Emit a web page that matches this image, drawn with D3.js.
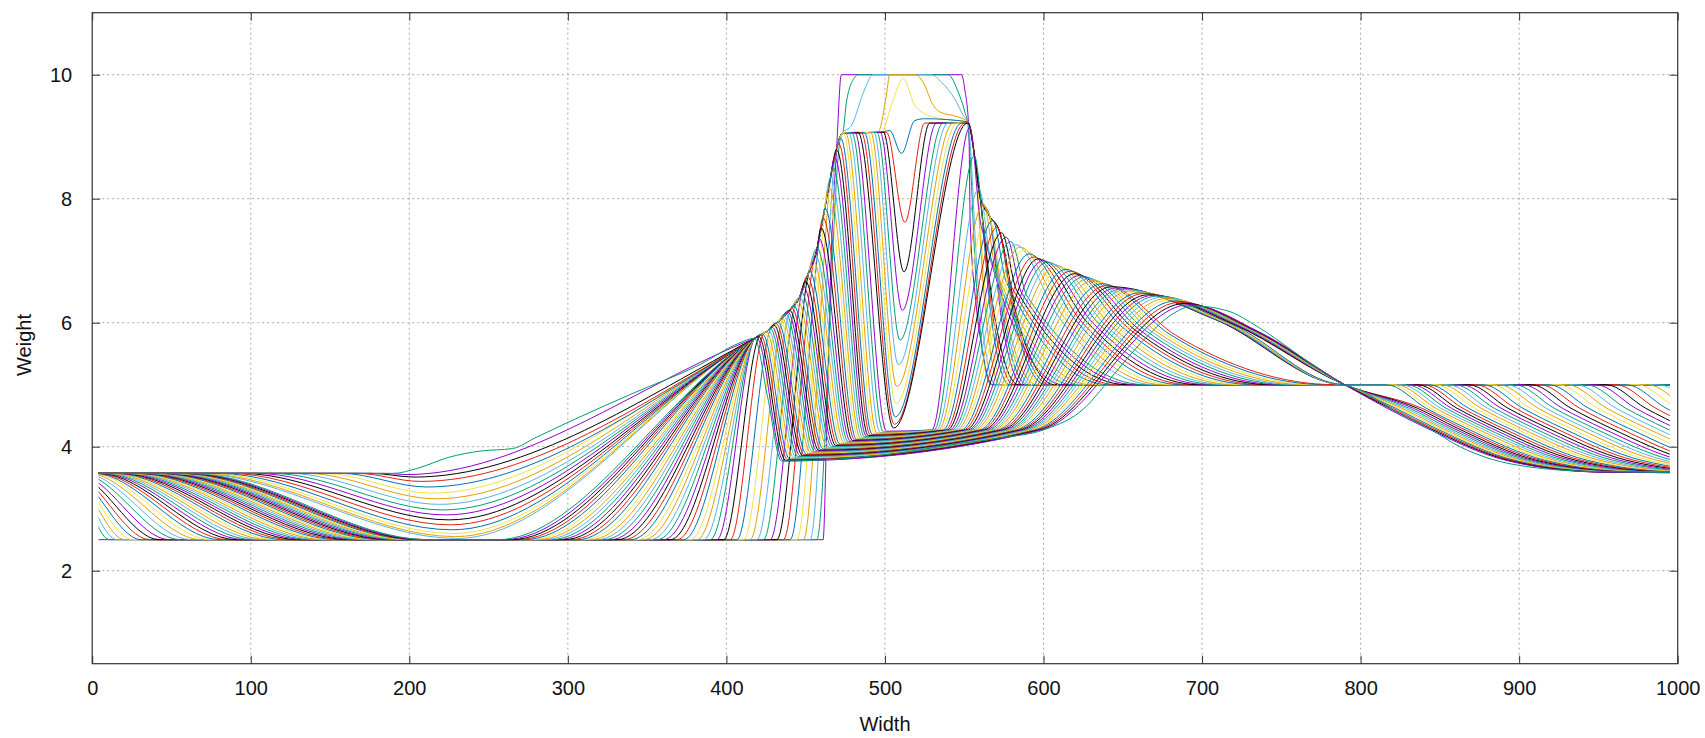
<!DOCTYPE html>
<html lang="en">
<head>
  <meta charset="utf-8"/>
  <title>Weight profiles</title>
  <script src="https://d3js.org/d3.v7.min.js"></script>
  <style>
    body { margin: 0; background: #fff; }
    text { font-family: "Liberation Sans", Arial, sans-serif; }
  </style>
</head>
<body>
<svg id="chart" width="1705" height="738"></svg>
<script>
  // ticks and colours
  const xTickValues = [0, 100, 200, 300, 400, 500, 600, 700, 800, 900, 1000];
  const yTickValues = [2, 4, 6, 8, 10];
  const lineColors = ["#9400d3", "#009e73", "#56b4e9", "#e69f00", "#f0e442", "#0072b2", "#e51e10", "#000000"];

  // levels
  const topLevel = 3.57, bottomLevel = 2.5, plateauLevel = 9.07, shoulderLevel = 9.22;
  const riseLevel = 4.27, rightLevel = 5.0;

  // first and last profile, read point by point
  const firstCurve = [[-20,2.5],[461,2.5],[463,4.0],[466,7.0],[469.5,8.8],[472.5,10.0],[548.3,10.0],[550.3,9.77],
    [552.9,9.13],[553.8,7.6],[557.5,6.3],[561.5,5.55],[565.5,5.08],[568,5.0],[1030,5.0]];
  const lastCurve = [[-20,3.57],[190,3.57],[205,3.65],[225,3.83],[245,3.93],[265,3.97],[280,4.15],[299,4.38],
    [341,4.86],[383,5.32],[408,5.67],[417.7,5.75],[426,4.8],[434.7,3.77],[470,3.80],[500,3.87],[547,4.05],
    [575,4.15],[599.9,4.27],[627,4.65],[638,4.97],[652,5.4],[665,5.77],[682,6.15],[694.5,6.27],[715,6.2],
    [736,5.92],[757,5.55],[774,5.24],[790,5.0],[800,4.91],[820.6,4.59],[841.6,4.32],[862.6,4.0],[883.7,3.79],
    [904.7,3.68],[946.8,3.60],[1030,3.58]];

  // left and right edges of the big peak
  const leftEdge = [[418,5.75],[425,5.85],[432,6.0],[440,6.2],[446,6.4],[451,6.75],[457,7.17],[461,7.7],[465,8.25],[469,8.75],[473,9.05]];
  const rightEdge = [[557,8.6],[560,8.03],[566,7.72],[572,7.49]];
  // fall from 5.0 towards 3.58 on the right (offset, value)
  const rightShape = [[0,5.0],[25,4.62],[50,4.3],[100,3.78],[160,3.59],[230,3.58]];
  const flankBend = { shoulder: [0.35, 0.4], steep: [0.12, 0.62], middle: [0.3, 0.5], late: [0.45, 0.66] };

  // curves 1-49: left step from 3.57 down to 2.5, then start of the climb
  const frontFrom = [-14.1,-14.6,-14.6,-14.5,-14.1,-13.3,-12.0,-10.0,-7.6,-5.2,-2.8,-0.6,1.0,2.6,4.2,5.9,7.5,9.1,10.8,
    12.4,14.1,15.7,17.4,19.1,20.7,22.4,24.1,25.8,27.5,29.2,30.9,32.6,34.3,36.0,37.7,39.4,41.1,42.8,44.6,46.3,48.1,
    49.8,51.6,53.3,55.1,56.8,58.6,60.4,62.1];
  const frontTo = [10.9,15.6,20.6,25.7,30.9,36.5,42.4,48.8,55.6,62.4,68.8,75.0,80.7,86.2,91.5,96.8,101.9,107.0,111.9,
    116.8,121.6,126.2,130.7,135.2,139.5,143.8,147.9,151.9,155.8,159.6,163.3,166.9,170.4,173.8,177.1,180.3,183.3,
    186.3,189.2,191.9,194.6,197.1,199.6,201.9,204.2,206.3,208.4,210.3,212.1];
  const fanFrom = [457.0,452.8,448.6,444.4,440.2,436.0,431.8,427.6,423.4,419.2,415.0,410.8,406.6,402.4,398.2,394.0,
    389.8,385.6,381.4,377.2,373.0,368.8,364.6,360.4,356.2,352.0,347.8,343.6,339.4,335.2,331.0,326.8,322.6,318.4,
    314.2,310.0,305.8,301.6,297.4,293.2,289.0,284.8,280.6,276.4,272.2,268.0,263.8,259.6,255.4];

  // curves 50-64: shallow dip near x = 225
  const dipFrom = [64,68,73,79,86,94,103,113,124,135,146,157,167,176,184];
  const dipX = [230,229,228,227,226,225,223,221,219,217,214,211,207,203,198];
  const dipY = [2.52,2.55,2.60,2.66,2.74,2.82,2.90,2.98,3.07,3.16,3.25,3.35,3.44,3.51,3.55];

  // curves 1-15: where the climb meets the left edge of the peak
  const joinX = [472,469,466,463,459.5,456,452,448,444,440,436,432,428,424,421];
  const joinY = [8.98,8.75,8.37,7.97,7.50,7.10,6.82,6.54,6.33,6.20,6.10,6.00,5.91,5.84,5.79];

  // curves 1-5: top of the peak
  const top1 = [[473.6,9.08],[475.7,9.56],[481,9.96],[483,10.0],[539.8,10.0],[546.2,9.72],[550.4,9.40],[552.4,9.18]];
  const top2 = [[478.9,9.18],[487.3,9.77],[492.5,10.0],[529.3,10.0],[535.6,9.88],[544,9.61],[549.3,9.35],[552.4,9.22]];
  const top3 = [[495.7,9.08],[500.9,9.67],[503,10.0],[518.8,10.0],[525.1,9.83],[529.3,9.56],[534.6,9.40],[546,9.32],[552.4,9.24]];
  const top4 = [[498,9.08],[504.1,9.51],[511.4,9.94],[518.8,9.51],[525.1,9.37],[535.6,9.29],[552.4,9.24]];
  const top5 = [[499,9.08],[503,9.10],[510.4,8.73],[518.8,9.26],[525,9.29],[552.4,9.24]];
  const topShapes = [top1, top2, top3, top4, top5];

  // curves 6-15: the V inside the peak
  const vFrom = [501,499,497,495,493,491,489,487,485,483];
  const vX = [512.5,512,511,509.5,508.5,507.5,507,506.5,506,505.5];
  const vY = [7.62,6.82,6.2,5.72,5.32,4.97,4.70,4.48,4.36,4.30];
  const vTo = [525.1,528.3,532.5,536.7,539.8,543,545.7,548.3,550.4,552.1];

  // curves 16-20: end of the left plateau
  const plateauTo = [481,479,477,475,473.5];
  // curves 21-64: left peak sliding down the left edge
  const peakLX = [472.0,470.8,469.5,468.3,467.1,465.8,464.6,463.4,462.1,460.9,459.7,458.4,457.2,456.0,454.7,453.5,
    452.3,451.0,449.8,448.6,447.3,446.1,444.9,443.6,442.4,441.2,439.9,438.7,437.5,436.2,435.0,433.8,432.5,431.3,
    430.1,428.8,427.6,426.4,425.1,423.9,422.7,421.4,420.2,419.0];
  const peakLY = [8.98,8.89,8.79,8.66,8.51,8.35,8.19,8.03,7.85,7.69,7.53,7.36,7.20,7.10,7.01,6.92,6.84,6.75,6.67,6.58,
    6.49,6.41,6.36,6.32,6.28,6.24,6.20,6.17,6.14,6.11,6.08,6.05,6.01,5.99,5.96,5.93,5.91,5.88,5.85,5.83,5.82,5.80,5.78,5.76];

  // curves 16-64: bottom of the drop, start of the right climb, right peak
  const dropX = [501.0,499.0,497.0,495.0,493.5,492.0,490.8,489.5,488.3,487.1,485.8,484.6,483.4,482.1,480.9,479.6,478.2,
    476.9,475.7,474.3,473.0,471.7,470.3,469.0,467.7,466.4,465.1,463.8,462.4,461.1,459.8,458.4,457.2,455.9,454.5,
    453.2,451.9,450.5,449.2,448.0,446.6,445.3,444.0,442.6,441.3,440.0,438.7,437.4,436.1];
  const lowLeft = [4.25,4.24,4.23,4.22,4.21,4.20,4.19,4.18,4.17,4.16,4.15,4.14,4.13,4.12,4.11,4.10,4.09,4.08,4.07,4.06,
    4.05,4.04,4.03,4.02,4.01,4.00,3.99,3.98,3.97,3.96,3.95,3.94,3.93,3.92,3.91,3.90,3.89,3.88,3.87,3.86,3.85,3.84,
    3.83,3.82,3.81,3.80,3.79,3.78,3.77];
  const riseFrom = [529.5,531.0,532.4,533.8,535.2,536.7,538.2,539.5,541.0,542.4,543.9,545.4,546.7,548.2,549.6,551.1,
    552.6,553.9,555.4,556.8,558.3,559.8,561.1,562.6,564.0,565.5,567.0,568.4,569.8,571.2,572.7,574.2,575.6,577.1,
    578.4,579.9,581.4,582.8,584.3,585.6,587.1,588.6,590.0,591.5,592.9,594.3,595.8,597.2,598.7];
  const peakRX = [553.5,556.4,559.3,562.1,565.0,567.9,570.8,573.6,576.5,579.4,582.3,585.2,588.0,590.9,593.8,596.7,
    599.6,602.4,605.3,608.2,611.1,614.0,616.8,619.7,622.6,625.5,628.4,631.3,634.1,637.0,639.9,642.8,645.7,648.6,
    651.4,654.3,657.2,660.1,663.0,665.8,668.7,671.6,674.5,677.4,680.3,683.1,686.0,688.9,691.8];
  const peakRY = [9.15,8.69,8.16,7.92,7.77,7.65,7.54,7.45,7.38,7.31,7.26,7.22,7.17,7.11,7.06,7.03,7.00,6.98,6.95,6.92,
    6.89,6.86,6.83,6.79,6.76,6.74,6.71,6.68,6.65,6.63,6.60,6.58,6.56,6.54,6.53,6.51,6.49,6.48,6.47,6.45,6.44,6.43,
    6.41,6.39,6.37,6.35,6.33,6.31,6.29];

  // curves 1-64: where the right flank reaches 5.0
  const flankTo = [567.0,569.9,572.7,575.6,578.4,581.3,584.1,587.0,589.9,592.7,595.6,598.4,601.3,604.1,607.0,
    612.7,618.4,624.2,629.9,635.6,641.3,647.0,652.8,658.5,664.2,669.9,675.6,681.4,687.1,692.8,698.5,704.2,710.0,
    715.7,721.4,727.1,732.8,738.6,744.3,750.0,755.7,761.4,767.2,772.9,778.6,784.3,790.0,
    790,790,790,790,790,790,790,790,790,790,790,790,790,790,790,790,790];
  // curves 1-15: how far the flank follows the right edge
  const peelCount = [0,0,1,1,2,2,2,3,3,3,3,4,4,4,4];
  // curves 17-64: where the profile leaves 5.0 on the right
  const rightFrom = [995.0,988.0,981.1,974.3,967.7,961.2,954.8,948.5,942.3,936.2,930.3,924.5,918.8,913.2,907.7,902.3,
    897.1,892.0,887.0,882.1,877.3,872.6,868.0,863.6,859.3,855.1,851.0,847.0,843.1,839.4,835.8,832.3,828.9,825.6,
    822.4,819.3,816.4,813.6,810.9,808.3,805.8,803.4,801.2,799.1,797.1,795.2,793.4,791.7];

  const curveCount = 66;

  function buildCurve(k) {
    if (k === 0) return firstCurve;
    if (k === curveCount - 1) return lastCurve;
    const p = [[-20, topLevel]];
    if (k <= 49) {
      p.push([frontFrom[k-1], topLevel], [frontTo[k-1], bottomLevel], [fanFrom[k-1], bottomLevel]);
    } else {
      p.push([dipFrom[k-50], topLevel], [dipX[k-50], dipY[k-50]]);
    }
    const jx = k <= 15 ? joinX[k-1] : leftEdge[0][0];
    const jy = k <= 15 ? joinY[k-1] : leftEdge[0][1];
    p.push([jx, jy]);
    const stop = k <= 20 ? 474 : peakLX[k-21] - 0.8;
    leftEdge.forEach(e => { if (e[0] > jx + 0.5 && e[0] < stop) p.push(e); });

    if (k <= 5) {
      topShapes[k-1].forEach(e => p.push(e));
    } else if (k <= 15) {
      const i = k - 6;
      p.push([vFrom[i], plateauLevel], [vX[i], vY[i]], [vTo[i], shoulderLevel]);
      if (vTo[i] < 552.3) p.push([552.4, shoulderLevel]);
    } else {
      if (k <= 20) p.push([plateauTo[k-16], plateauLevel]);
      else p.push([peakLX[k-21], peakLY[k-21]]);
      const i = k - 16;
      p.push([dropX[i], lowLeft[i]], [riseFrom[i], riseLevel], [peakRX[i], peakRY[i]]);
    }

    // right flank of the peak
    const f = flankTo[k-1];
    if (k <= 15) rightEdge.slice(0, peelCount[k-1]).forEach(e => p.push(e));
    const last = p[p.length - 1];
    const bend = k <= 15 ? flankBend.shoulder : k <= 25 ? flankBend.steep : k <= 46 ? flankBend.middle : flankBend.late;
    p.push([last[0] + bend[0] * (f - last[0]), rightLevel + bend[1] * (last[1] - rightLevel)], [f, rightLevel]);

    // right end
    if (k < 17) { p.push([1030, rightLevel]); return p; }
    const xs = rightFrom[k-17];
    if (xs >= 815 || f < 790) p.push([xs, rightLevel]);
    rightShape.forEach(s => { if (s[0] > 0) p.push([xs + s[0], s[1]]); });
    const tail = rightShape[rightShape.length - 1];
    if (xs + tail[0] < 1030) p.push([1030, tail[1]]);
    return p;
  }

  const svg = d3.select("#chart");
  const plot = { left: 92.2, right: 1677.7, top: 12.7, bottom: 663.7 };
  const x = d3.scaleLinear().domain([0, 1000]).range([plot.left, plot.right]);
  const y = d3.scaleLinear().domain([0.5, 11]).range([plot.bottom, plot.top]);

  svg.append("rect").attr("width", 1705).attr("height", 738).attr("fill", "#fff");

  // dotted grid
  const grid = svg.append("g").attr("stroke", "#a8a8a8").attr("stroke-width", 1).attr("stroke-dasharray", "2,3");
  grid.selectAll("line.gx").data(xTickValues.slice(1, -1)).enter().append("line").attr("class", "gx")
    .attr("x1", d => x(d)).attr("x2", d => x(d)).attr("y1", plot.top).attr("y2", plot.bottom);
  grid.selectAll("line.gy").data(yTickValues).enter().append("line").attr("class", "gy")
    .attr("x1", plot.left).attr("x2", plot.right).attr("y1", d => y(d)).attr("y2", d => y(d));

  // profiles
  svg.append("defs").append("clipPath").attr("id", "clip").append("rect")
    .attr("x", x(4)).attr("y", 0).attr("width", x(995) - x(4)).attr("height", 738);
  const lineGen = d3.line().x(d => x(d[0])).y(d => y(d[1])).curve(d3.curveMonotoneX);
  const curves = d3.range(curveCount).map(buildCurve);
  svg.append("g").attr("clip-path", "url(#clip)")
    .selectAll("path").data(curves).enter().append("path")
    .attr("d", lineGen)
    .attr("fill", "none")
    .attr("stroke", (d, i) => lineColors[i % lineColors.length])
    .attr("stroke-width", 1);

  // axes with inward ticks on all four sides
  function styleAxis(g) {
    g.select(".domain").remove();
    g.selectAll(".tick line").attr("stroke", "#333");
    g.selectAll("text").attr("font-size", 20).attr("fill", "#111")
      .attr("font-family", "'Liberation Sans', Arial, sans-serif");
  }
  const plain = d3.format("d");
  svg.append("g").attr("transform", `translate(0,${plot.bottom})`)
    .call(d3.axisBottom(x).tickValues(xTickValues).tickFormat(plain).tickSize(-8).tickSizeOuter(0).tickPadding(17))
    .call(styleAxis);
  svg.append("g").attr("transform", `translate(0,${plot.top})`)
    .call(d3.axisTop(x).tickValues(xTickValues).tickSize(-8).tickSizeOuter(0).tickFormat("")).call(styleAxis);
  svg.append("g").attr("transform", `translate(${plot.left},0)`)
    .call(d3.axisLeft(y).tickValues(yTickValues).tickFormat(plain).tickSize(-8).tickSizeOuter(0).tickPadding(20))
    .call(styleAxis);
  svg.append("g").attr("transform", `translate(${plot.right},0)`)
    .call(d3.axisRight(y).tickValues(yTickValues).tickSize(-8).tickSizeOuter(0).tickFormat("")).call(styleAxis);

  svg.append("rect")
    .attr("x", plot.left).attr("y", plot.top)
    .attr("width", plot.right - plot.left).attr("height", plot.bottom - plot.top)
    .attr("fill", "none").attr("stroke", "#333").attr("stroke-width", 1.2);

  svg.append("text").attr("x", (plot.left + plot.right) / 2).attr("y", 724)
    .attr("text-anchor", "middle").attr("dominant-baseline", "central")
    .attr("font-size", 20).attr("fill", "#111").text("Width");
  svg.append("text").attr("transform", "translate(24,345) rotate(-90)")
    .attr("text-anchor", "middle").attr("dominant-baseline", "central")
    .attr("font-size", 20).attr("fill", "#111").text("Weight");
</script>
</body>
</html>
